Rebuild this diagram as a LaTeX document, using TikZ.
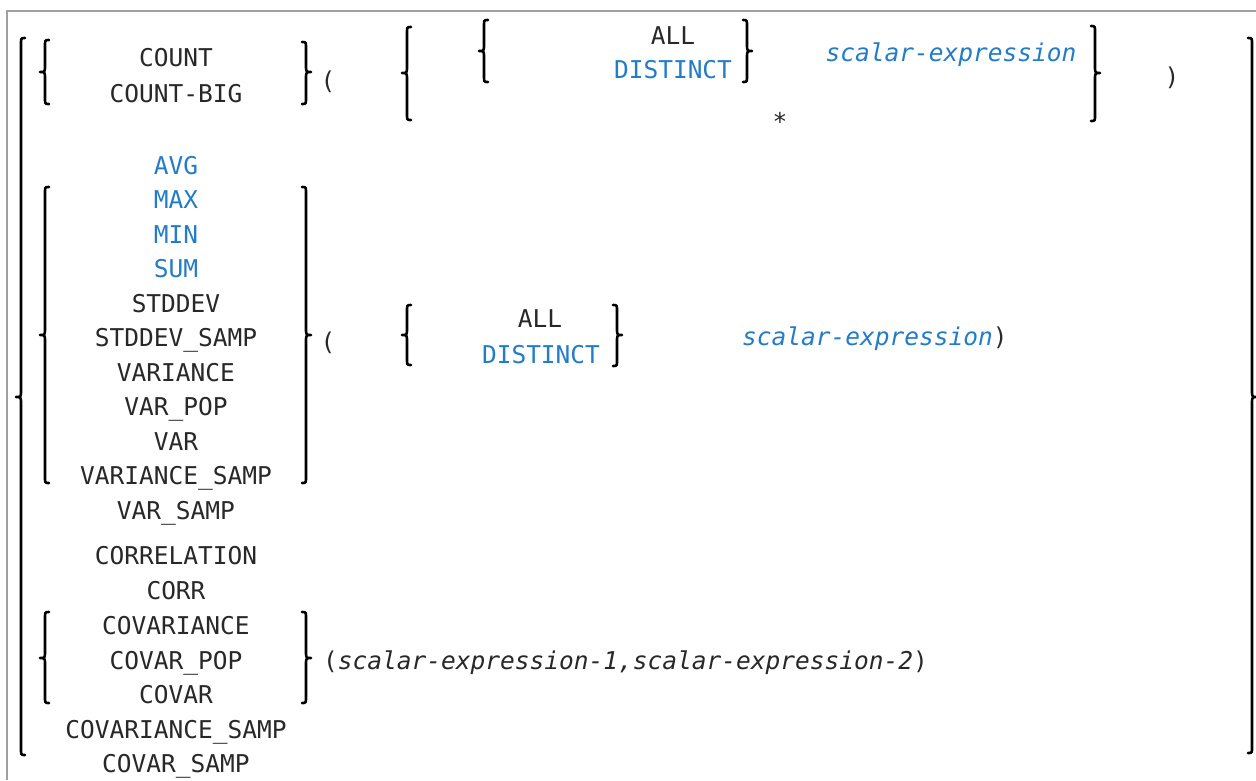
\documentclass[tikz,border=0pt]{standalone}
\usepackage{fontspec}
\newfontfamily\sqlmono{DejaVu Sans Mono}
\definecolor{kwblue}{RGB}{36,124,200}
\definecolor{txtgray}{RGB}{40,40,40}
\definecolor{framegray}{RGB}{160,160,160}
\newcommand\sqlfont{\sqlmono\fontsize{24.5pt}{29pt}\selectfont}
\tikzset{
  word/.style={font=\sqlfont, text=txtgray, inner sep=0pt, anchor=base},
  keyword/.style={word, text=kwblue},
  param/.style={word, font=\sqlfont\itshape, text=kwblue},
  brc/.style={line width=2.6pt, line cap=round, line join=round, draw=black},
  frame/.style={line width=1.5pt, draw=framegray},
}
\newcommand\drawLbrace[4]{%
  \draw[brc] ({#1+4},#2) .. controls (#1,#2) .. (#1,{#2+6}) -- (#1,{#3-7})
    .. controls (#1,#3) .. ({#1-5},#3) .. controls (#1,#3) .. (#1,{#3+7})
    -- (#1,{#4-6}) .. controls (#1,#4) .. ({#1+4},#4);}
\newcommand\drawRbrace[4]{%
  \draw[brc] ({#1-4},#2) .. controls (#1,#2) .. (#1,{#2+6}) -- (#1,{#3-7})
    .. controls (#1,#3) .. ({#1+5},#3) .. controls (#1,#3) .. (#1,{#3+7})
    -- (#1,{#4-6}) .. controls (#1,#4) .. ({#1-4},#4);}
\begin{document}
\begin{tikzpicture}[x=1pt,y=-1pt]
\useasboundingbox (0,0) rectangle (1256,780);
\fill[white] (0,0) rectangle (1256,780);
\draw[frame] (7,780) -- (7,11) -- (1256,11);

% outer braces
\drawLbrace{21}{38}{397}{755}
\drawRbrace{1252}{38}{397}{753}

% group 1
\drawLbrace{45}{40}{72}{104}
\drawRbrace{306}{42}{72}{104}
\node[word] (count) at (176,66) {COUNT};
\node[word] (countbig) at (176,102) {COUNT-BIG};
\node[word] (lp1) at (328,89) {(};
\drawLbrace{407}{27}{73}{120}
\drawLbrace{484}{20}{51}{82}
\node[word] (all1) at (673,44) {ALL};
\node[keyword] (dist1) at (673,78) {DISTINCT};
\drawRbrace{747}{20}{51}{82}
\node[param] (expr1) at (951,61) {scalar-expression};
\node[word] (star) at (780,130) {*};
\drawRbrace{1095}{26}{73}{121}
\node[word] (rp1) at (1172,85) {)};

% group 2
\drawLbrace{45}{187}{335}{483}
\drawRbrace{306}{187}{335}{483}
\node[keyword] (avg) at (176,174) {AVG};
\node[keyword] (max) at (176,208.5) {MAX};
\node[keyword] (min) at (176,243) {MIN};
\node[keyword] (sum) at (176,277.5) {SUM};
\node[word] (stddev) at (176,312) {STDDEV};
\node[word] (stddevs) at (176,346.5) {STDDEV\_SAMP};
\node[word] (variance) at (176,381) {VARIANCE};
\node[word] (varpop) at (176,415.5) {VAR\_POP};
\node[word] (var) at (176,450) {VAR};
\node[word] (variances) at (176,484.5) {VARIANCE\_SAMP};
\node[word] (varsamp) at (176,519) {VAR\_SAMP};
\node[word] (lp2) at (328,350) {(};
\drawLbrace{407}{305}{335}{365}
\node[word] (all2) at (540,327) {ALL};
\node[keyword] (dist2) at (541,363) {DISTINCT};
\drawRbrace{617}{305}{335}{366}
\node[word, anchor=base west] (expr2) at (742,345) {{\color{kwblue}\itshape scalar-expression})};

% group 3
\drawLbrace{45}{612}{658}{703}
\drawRbrace{306}{612}{658}{703}
\node[word] (correl) at (176,564) {CORRELATION};
\node[word] (corr) at (176,599) {CORR};
\node[word] (covariance) at (176,634) {COVARIANCE};
\node[word] (covarpop) at (176,669) {COVAR\_POP};
\node[word] (covar) at (176,703) {COVAR};
\node[word] (covars) at (176,738) {COVARIANCE\_SAMP};
\node[word] (covarsamp) at (176,772) {COVAR\_SAMP};
\node[word, anchor=base west] (expr3) at (323,669) {({\itshape scalar-expression-1,scalar-expression-2})};
\end{tikzpicture}
\end{document}
